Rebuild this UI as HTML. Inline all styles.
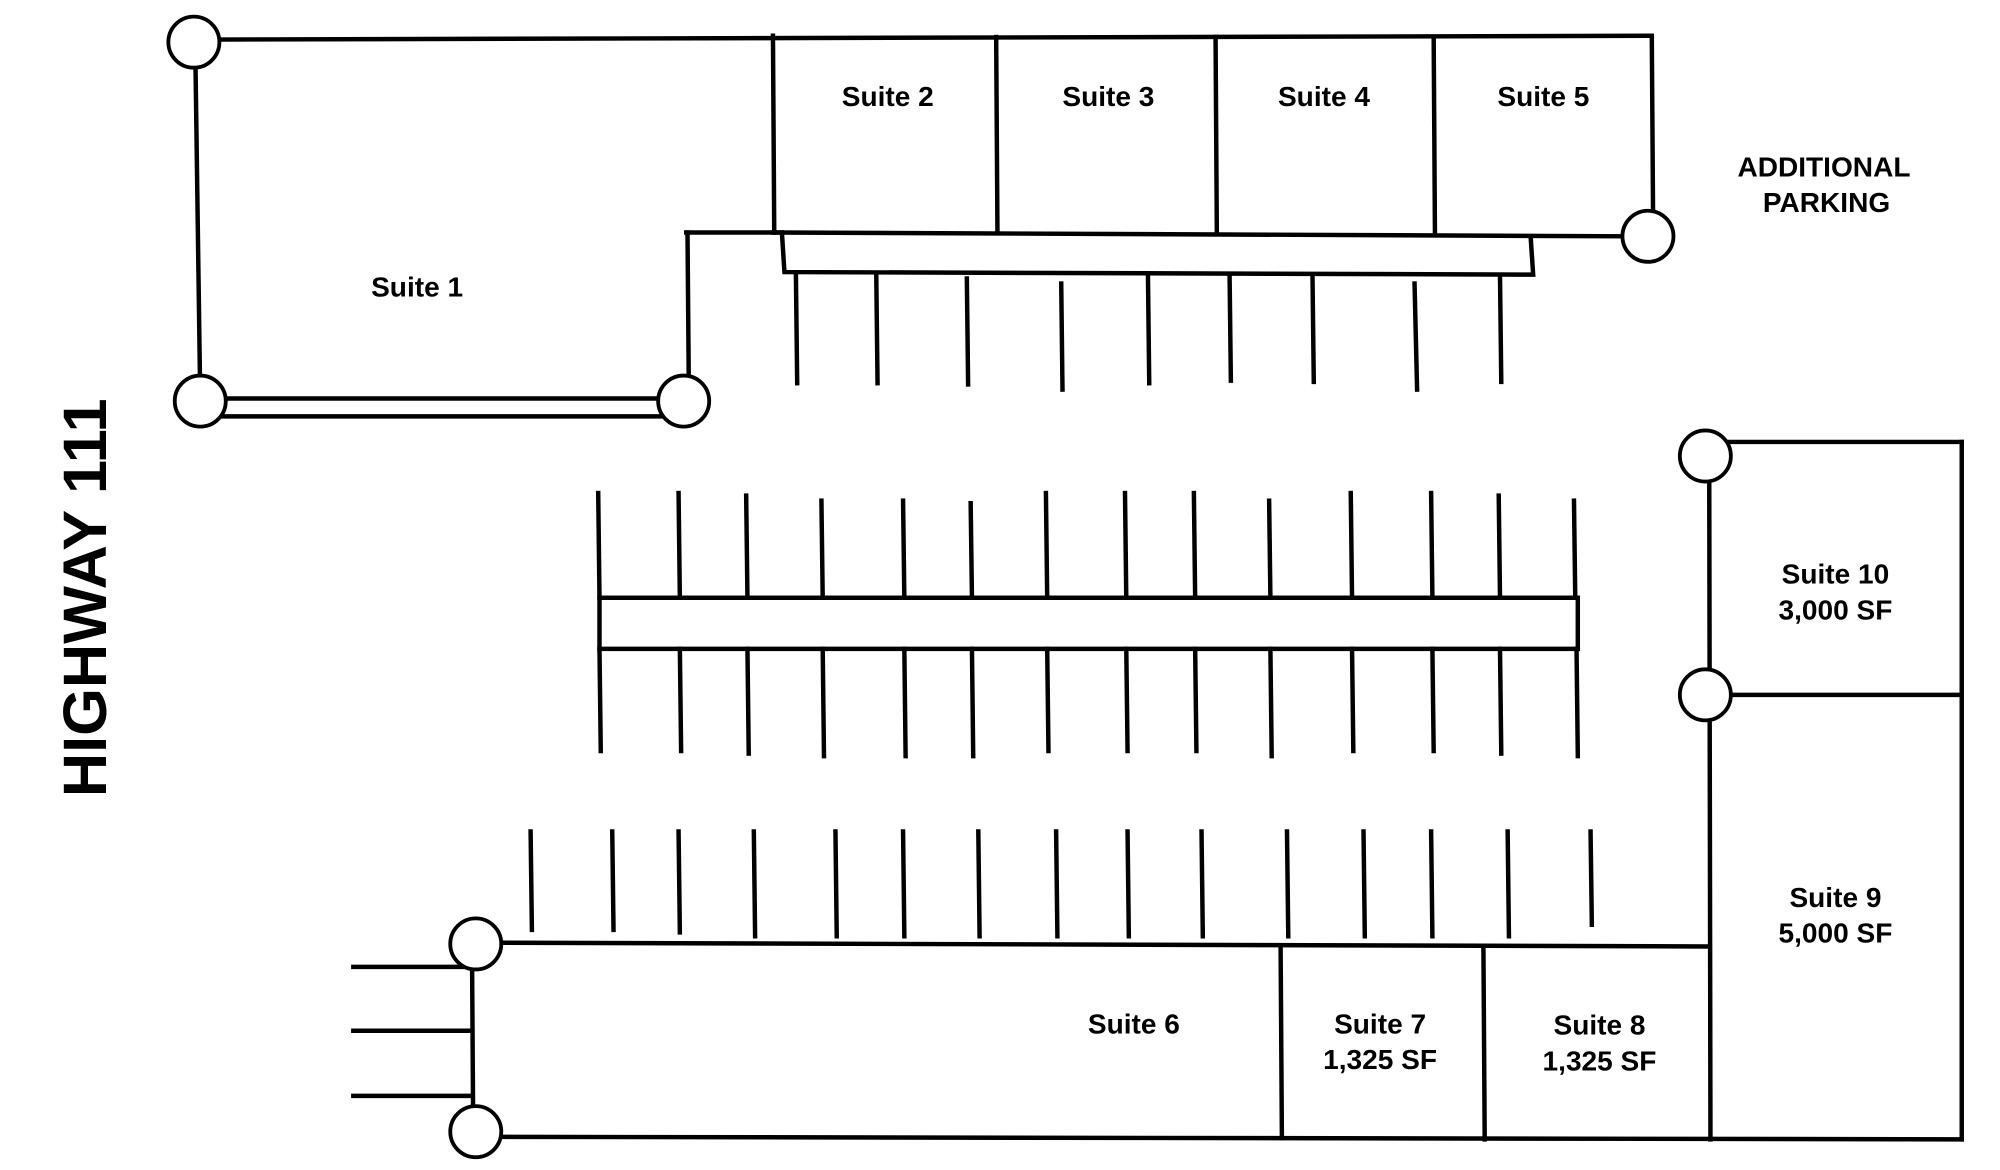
<!DOCTYPE html>
<html><head><meta charset="utf-8"><style>html,body{margin:0;padding:0;background:#fff;}svg{display:block}</style></head>
<body>
<svg width="2000" height="1170" viewBox="0 0 1568 916" preserveAspectRatio="none" xmlns="http://www.w3.org/2000/svg">
<rect width="1568" height="916" fill="#fff"/>
<g stroke="#000" stroke-width="3.5" fill="none" stroke-linecap="square">
<line x1="152" y1="31" x2="1295" y2="28"/>
<line x1="153" y1="32" x2="157" y2="313"/>
<line x1="157" y1="312" x2="536" y2="312"/>
<line x1="157" y1="326" x2="536" y2="326"/>
<line x1="538" y1="182" x2="610" y2="182"/>
<line x1="539" y1="182" x2="540" y2="300"/>
<line x1="606" y1="28" x2="607" y2="182"/>
<line x1="781" y1="29" x2="782" y2="182"/>
<line x1="953" y1="29" x2="954" y2="183"/>
<line x1="1124" y1="29" x2="1125" y2="184"/>
<line x1="1295" y1="28" x2="1296" y2="168"/>
<line x1="606" y1="182" x2="1275" y2="185"/>
<polyline points="613,182 615,213 1202,215 1200,185"/>
<line x1="624" y1="216" x2="625" y2="300"/>
<line x1="687" y1="216" x2="688" y2="300"/>
<line x1="758" y1="218" x2="759" y2="301"/>
<line x1="832" y1="222" x2="833" y2="305"/>
<line x1="900" y1="216" x2="901" y2="300"/>
<line x1="964" y1="216" x2="965" y2="298"/>
<line x1="1029" y1="216" x2="1030" y2="299"/>
<line x1="1109" y1="222" x2="1111" y2="305"/>
<line x1="1176" y1="216" x2="1177" y2="299"/>
<rect x="470" y="468" width="767" height="40"/>
<g>
<line x1="469" y1="386" x2="470" y2="468"/><line x1="532" y1="386" x2="533" y2="468"/><line x1="585" y1="388" x2="586" y2="468"/><line x1="644" y1="392" x2="645" y2="468"/><line x1="708" y1="392" x2="709" y2="468"/><line x1="761" y1="394" x2="762" y2="468"/><line x1="820" y1="386" x2="821" y2="468"/><line x1="882" y1="386" x2="883" y2="468"/><line x1="936" y1="386" x2="937" y2="468"/><line x1="995" y1="392" x2="996" y2="468"/><line x1="1059" y1="386" x2="1060" y2="468"/><line x1="1122" y1="386" x2="1123" y2="468"/><line x1="1175" y1="388" x2="1176" y2="468"/><line x1="1234" y1="392" x2="1235" y2="468"/>
<line x1="470" y1="508" x2="471" y2="588"/><line x1="533" y1="508" x2="534" y2="588"/><line x1="586" y1="508" x2="587" y2="590"/><line x1="645" y1="508" x2="646" y2="592"/><line x1="709" y1="508" x2="710" y2="592"/><line x1="762" y1="508" x2="763" y2="592"/><line x1="821" y1="508" x2="822" y2="588"/><line x1="883" y1="508" x2="884" y2="588"/><line x1="937" y1="508" x2="938" y2="588"/><line x1="996" y1="508" x2="997" y2="592"/><line x1="1060" y1="508" x2="1061" y2="588"/><line x1="1123" y1="508" x2="1124" y2="588"/><line x1="1176" y1="508" x2="1177" y2="590"/><line x1="1236" y1="508" x2="1237" y2="592"/>
</g>
<g>
<line x1="416" y1="651" x2="417" y2="728"/><line x1="480" y1="651" x2="481" y2="728"/><line x1="532" y1="651" x2="533" y2="730"/><line x1="591" y1="651" x2="592" y2="733"/><line x1="655" y1="651" x2="656" y2="733"/><line x1="708" y1="651" x2="709" y2="733"/><line x1="767" y1="651" x2="768" y2="733"/><line x1="828" y1="651" x2="829" y2="733"/><line x1="884" y1="651" x2="885" y2="733"/><line x1="942" y1="651" x2="943" y2="733"/><line x1="1009" y1="651" x2="1010" y2="733"/><line x1="1069" y1="651" x2="1070" y2="733"/><line x1="1122" y1="651" x2="1123" y2="733"/><line x1="1182" y1="651" x2="1183" y2="733"/><line x1="1247" y1="651" x2="1248" y2="724"/>
</g>
<line x1="373" y1="738" x2="1340" y2="741"/>
<line x1="373" y1="890" x2="1538" y2="892"/>
<line x1="370" y1="738" x2="371" y2="886"/>
<line x1="1004" y1="741" x2="1005" y2="891"/>
<line x1="1163" y1="741" x2="1164" y2="892"/>
<line x1="1340" y1="346" x2="1341" y2="892"/>
<line x1="277" y1="757" x2="370" y2="757"/>
<line x1="277" y1="807" x2="370" y2="807"/>
<line x1="277" y1="858" x2="370" y2="858"/>
<line x1="1337" y1="346" x2="1538" y2="346"/>
<line x1="1538" y1="346" x2="1538" y2="892"/>
<line x1="1337" y1="544" x2="1535" y2="544"/>
</g>
<g stroke="#000" stroke-width="3" fill="#fff">
<circle cx="152" cy="33" r="20"/>
<circle cx="157" cy="314" r="20"/>
<circle cx="536" cy="314" r="20"/>
<circle cx="1292" cy="185" r="20"/>
<circle cx="1337" cy="357" r="20"/>
<circle cx="1337" cy="544" r="20"/>
<circle cx="373" cy="739" r="20"/>
<circle cx="373" cy="886" r="20"/>
</g>
<g font-family="Liberation Sans, sans-serif" font-weight="bold" font-size="22" text-anchor="middle" fill="#000">
<text x="327" y="232">Suite 1</text>
<text x="696" y="83">Suite 2</text>
<text x="869" y="83">Suite 3</text>
<text x="1038" y="83">Suite 4</text>
<text x="1210" y="83">Suite 5</text>
<text x="1430" y="138">ADDITIONAL</text>
<text x="1432" y="166">PARKING</text>
<text x="1439" y="457">Suite 10</text>
<text x="1439" y="485">3,000 SF</text>
<text x="1439" y="710">Suite 9</text>
<text x="1439" y="738">5,000 SF</text>
<text x="889" y="809">Suite 6</text>
<text x="1082" y="809">Suite 7</text>
<text x="1082" y="837">1,325 SF</text>
<text x="1254" y="810">Suite 8</text>
<text x="1254" y="838">1,325 SF</text>
<text transform="translate(83,468) rotate(-90)" font-size="48">HIGHWAY 111</text>
</g>
</svg>
</body></html>
